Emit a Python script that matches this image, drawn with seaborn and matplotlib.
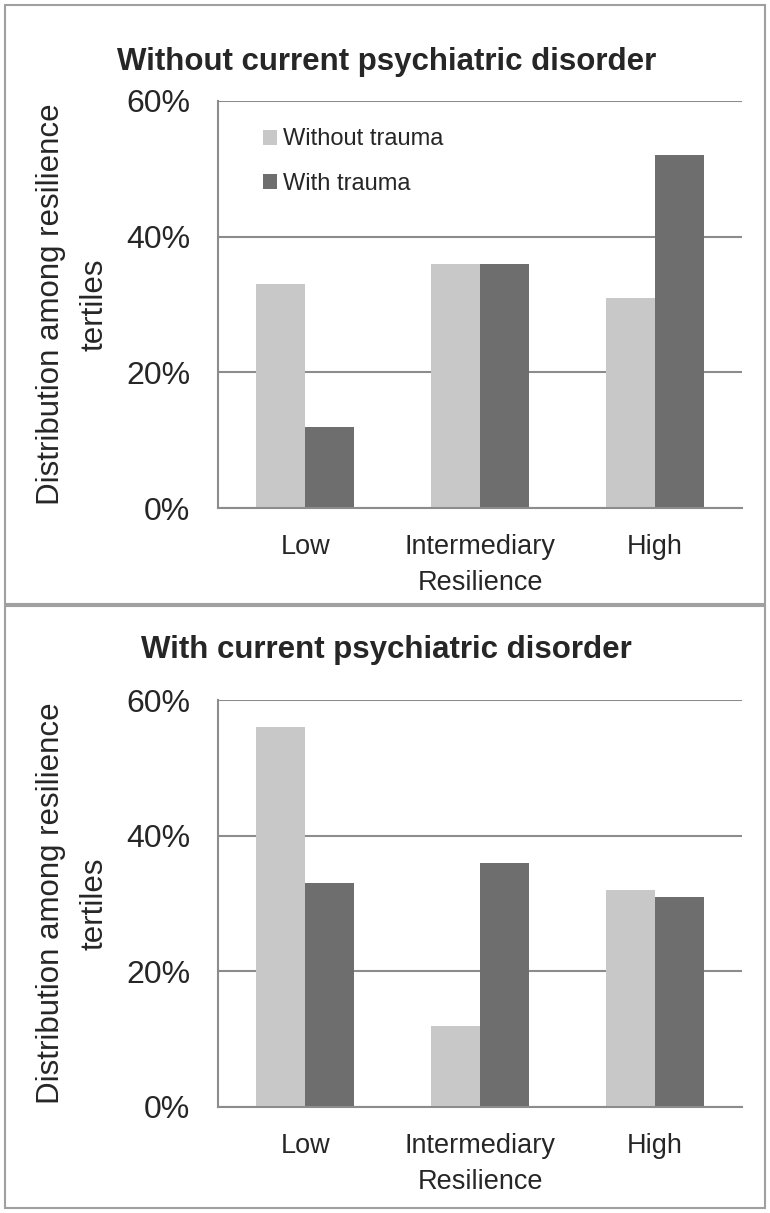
import matplotlib
matplotlib.use("Agg")
import matplotlib.pyplot as plt
from matplotlib.patches import Rectangle
from matplotlib.ticker import PercentFormatter
import pandas as pd
import seaborn as sns

# Valores (fração de cada tercil de resiliência)
tercis = ["Low", "Intermediary", "High"]
grupos = ["Without trauma", "With trauma"]
sem_transtorno_sem_trauma = [0.33, 0.36, 0.31]
sem_transtorno_com_trauma = [0.12, 0.36, 0.52]
com_transtorno_sem_trauma = [0.56, 0.12, 0.32]
com_transtorno_com_trauma = [0.33, 0.36, 0.31]
titulos = ["Without current psychiatric disorder", "With current psychiatric disorder"]
ticks_y = [0, 0.2, 0.4, 0.6]

cores = {"Without trauma": "#C8C8C8", "With trauma": "#6E6E6E"}
cinza = "#8C8C8C"

sns.set_style("white")
plt.rcParams["font.family"] = ["Liberation Sans", "DejaVu Sans"]

W, H = 770, 1213
fig = plt.figure(figsize=(W / 100, H / 100), dpi=100)


def monta_tabela(sem_trauma, com_trauma):
    linhas = []
    for t, a, b in zip(tercis, sem_trauma, com_trauma):
        linhas.append({"tercil": t, "grupo": grupos[0], "valor": a})
        linhas.append({"tercil": t, "grupo": grupos[1], "valor": b})
    return pd.DataFrame(linhas)


def painel(y0_px, titulo, titulo_y_px, df, legenda):
    # eixo posicionado em pixels da figura
    ax = fig.add_axes([218 / W, 1 - y0_px / H, 524 / W, 407 / H])
    sns.barplot(data=df, x="tercil", y="valor", hue="grupo", palette=cores,
                order=tercis, hue_order=grupos, width=0.56, saturation=1,
                errorbar=None, ax=ax, legend=legenda, linewidth=0)
    ax.set_ylim(0, 0.6)
    ax.set_xlim(-0.5, 2.5)
    ax.set_yticks(ticks_y)
    ax.yaxis.set_major_formatter(PercentFormatter(1.0, decimals=0))
    ax.yaxis.grid(True, color=cinza, lw=1.5)
    ax.set_axisbelow(True)
    for lado in ["top", "right"]:
        ax.spines[lado].set_visible(False)
    for lado in ["left", "bottom"]:
        ax.spines[lado].set_color(cinza)
        ax.spines[lado].set_linewidth(1.5)
    ax.tick_params(axis="y", length=0, pad=20, labelsize=23)
    ax.tick_params(axis="x", length=0, pad=19, labelsize=19.5)
    ax.set_xlabel("Resilience", fontsize=19.5, labelpad=7)
    ax.set_ylabel("Distribution among resilience\ntertiles", fontsize=22.5,
                  labelpad=12, linespacing=1.6)
    fig.text(0.502, 1 - titulo_y_px / H, titulo, ha="center", va="center",
             fontsize=22.5, fontweight="bold")
    if legenda:
        ax.legend(loc="upper left", bbox_to_anchor=(0.045, 0.985), frameon=False,
                  fontsize=17, handlelength=0.6, handleheight=0.6,
                  handletextpad=0.25, labelspacing=0.95)
    return ax


painel(508, titulos[0], 62,
       monta_tabela(sem_transtorno_sem_trauma, sem_transtorno_com_trauma), True)
painel(1107, titulos[1], 650,
       monta_tabela(com_transtorno_sem_trauma, com_transtorno_com_trauma), False)

# Molduras dos dois painéis
for y_top, y_bot in [(5, 604), (606, 1208)]:
    fig.add_artist(Rectangle((5 / W, 1 - y_bot / H), 760 / W, (y_bot - y_top) / H,
                             transform=fig.transFigure, fill=False,
                             edgecolor="#A0A0A0", lw=1.5))

fig.savefig("out.png", dpi=100)
